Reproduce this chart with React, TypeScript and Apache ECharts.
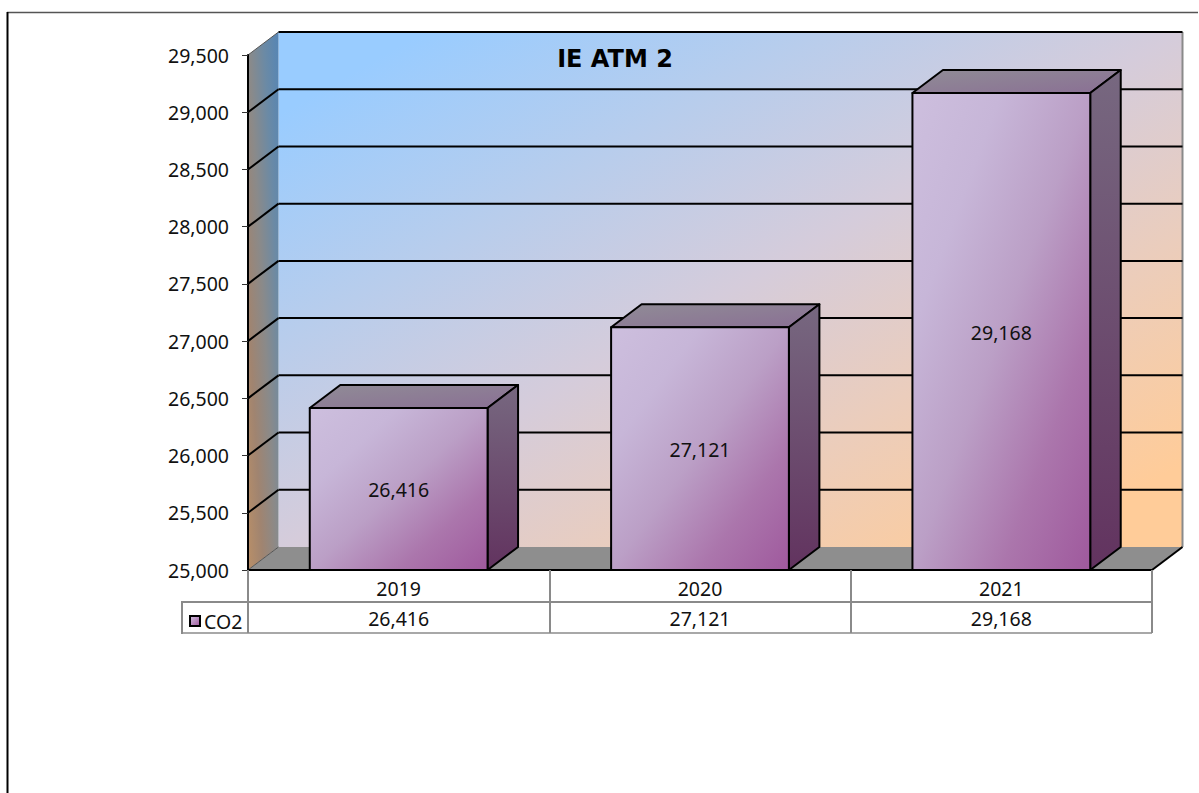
import React, { useEffect, useRef } from "react";
import * as echarts from "echarts";

const categories = ["2019", "2020", "2021"];
const seriesName = "CO2";
const co2Values = [26416, 27121, 29168];
const yTicks = [25000, 25500, 26000, 26500, 27000, 27500, 28000, 28500, 29000, 29500];
const chartTitle = "IE ATM 2";

const FONT = "'Noto Sans'";
const TITLE_FONT = "'DejaVu Sans'";
const TEXT_SIZE = 19.5;
const fmt = (v: number) => v.toLocaleString("en-US");
const DX = 30.5;
const DY = -23;
const BAR_RATIO = 0.59;

const grad = (x: number, y: number, x2: number, y2: number, stops: [number, string][]) =>
  new echarts.graphic.LinearGradient(x, y, x2, y2, stops.map(([offset, color]) => ({ offset, color })));

const wallItem = (params: any, api: any) => {
  const cs = params.coordSys;
  const x0 = cs.x;
  const x1 = cs.x + cs.width;
  const yB = api.coord([0, yTicks[0]])[1];
  const yT = api.coord([0, yTicks[yTicks.length - 1]])[1];
  const line = (a: number, b: number, c: number, d: number, stroke: string, lineWidth: number) => ({
    type: "line",
    shape: { x1: a, y1: b, x2: c, y2: d },
    style: { stroke, lineWidth },
  });
  const children: any[] = [
    {
      type: "rect",
      shape: { x: x0 + DX, y: yT + DY, width: cs.width, height: yB - yT },
      style: {
        fill: grad(0, 0, 1, 1, [
          [0, "#99ccff"],
          [0.08, "#99ccff"],
          [0.3, "#b8cdec"],
          [0.5, "#d5ccdb"],
          [0.7, "#ebcdbc"],
          [0.92, "#ffcc99"],
          [1, "#ffcc99"],
        ]),
      },
    },
    {
      type: "polygon",
      shape: { points: [[x0, yT], [x0 + DX, yT + DY], [x0 + DX, yB + DY], [x0, yB]] },
      style: {
        fill: grad(1, 0, 0, 1, [
          [0, "#5585b5"],
          [0.25, "#6b8aa5"],
          [0.5, "#8a8a8a"],
          [0.75, "#a08470"],
          [1, "#b98f68"],
        ]),
      },
    },
    {
      type: "polygon",
      shape: { points: [[x0, yB], [x0 + DX, yB + DY], [x1 + DX, yB + DY], [x1, yB]] },
      style: { fill: "#8e8e8e" },
    },
    line(x1 + DX, yT + DY, x1 + DX, yB + DY, "#8a8a8a", 2),
    line(x0, yT, x0 + DX, yT + DY, "#555555", 1),
    line(x0, yB, x0 + DX, yB + DY, "#555555", 1),
    line(x1, yB, x1 + DX, yB + DY, "#000000", 2),
  ];
  yTicks.slice(1).forEach((t) => {
    const y = api.coord([0, t])[1];
    if (t !== yTicks[yTicks.length - 1]) children.push(line(x0, y, x0 + DX, y + DY, "#000000", 2));
    children.push(line(x0 + DX, y + DY, x1 + DX, y + DY, "#000000", 2));
  });
  // data-table rules below the axis
  const row1 = yB + 32;
  const row2 = yB + 63;
  children.push(line(x0 - 66, row1, x1, row1, "#8a8a8a", 2));
  children.push(line(x0 - 66, row2, x1, row2, "#a8a8a8", 2));
  children.push(line(x0 - 66, row1 - 1, x0 - 66, row2 + 1, "#8a8a8a", 2));
  return { type: "group", children };
};

const barItem = (params: any, api: any) => {
  const i = api.value(0);
  const v = api.value(1);
  const [cx, yTop] = api.coord([i, v]);
  const yBase = api.coord([i, yTicks[0]])[1];
  const w = api.size([1, 0])[0] * BAR_RATIO;
  const l = cx - w / 2;
  const r = cx + w / 2;
  const border = { stroke: "#000000", lineWidth: 2, lineJoin: "round" };
  return {
    type: "group",
    children: [
      {
        type: "polygon",
        shape: { points: [[l, yTop], [l + DX, yTop + DY], [r + DX, yTop + DY], [r, yTop]] },
        style: { ...border, fill: grad(0, 0, 1, 1, [[0, "#908c96"], [1, "#8a6f94"]]) },
      },
      {
        type: "polygon",
        shape: { points: [[r, yTop], [r + DX, yTop + DY], [r + DX, yBase + DY], [r, yBase]] },
        style: { ...border, fill: grad(0, 0, 0, 1, [[0, "#776880"], [1, "#62335f"]]) },
      },
      {
        type: "rect",
        shape: { x: l, y: yTop, width: r - l, height: yBase - yTop },
        style: {
          ...border,
          fill: grad(0, 0, 1, 1, [
            [0, "#cdbfde"],
            [0.25, "#c7b6d8"],
            [0.5, "#bb9fc6"],
            [0.75, "#ab76ac"],
            [1, "#9f599d"],
          ]),
        },
      },
      {
        type: "text",
        style: {
          x: cx,
          y: (yTop + yBase) / 2 + 1,
          text: fmt(v),
          align: "center",
          verticalAlign: "middle",
          font: `${TEXT_SIZE}px ${FONT}`,
          fill: "#111111",
        },
      },
    ],
  };
};

export default function App() {
  const ref = useRef<HTMLDivElement>(null);
  useEffect(() => {
    const chart = echarts.init(ref.current!, undefined, { renderer: "svg" });
    chart.setOption({
      animation: false,
      backgroundColor: "#ffffff",
      title: {
        text: chartTitle,
        left: 610,
        top: 42,
        textAlign: "center",
        textStyle: { fontFamily: TITLE_FONT, fontSize: 24, fontWeight: "bold", color: "#000000" },
      },
      legend: {
        left: 189,
        top: 611,
        padding: 0,
        itemWidth: 10,
        itemHeight: 10,
        itemGap: 0,
        textStyle: { fontFamily: FONT, fontSize: TEXT_SIZE, color: "#111111", padding: [0, 0, 0, -1] },
        data: [
          {
            name: seriesName,
            icon: "rect",
            itemStyle: {
              color: grad(0, 0, 1, 1, [[0, "#d2c4e2"], [1, "#a0559b"]]),
              borderColor: "#000000",
              borderWidth: 2,
            },
          },
        ],
      },
      graphic: [
        {
          type: "line",
          shape: { x1: 7, y1: 12.5, x2: 1198, y2: 12.5 },
          style: { stroke: "#555555", lineWidth: 1.5 },
        },
        {
          type: "line",
          shape: { x1: 7.5, y1: 12, x2: 7.5, y2: 793 },
          style: { stroke: "#000000", lineWidth: 2 },
        },
      ],
      grid: { left: 248, right: 47, top: 55, bottom: 223, containLabel: false },
      xAxis: {
        type: "category",
        data: categories,
        boundaryGap: true,
        axisLine: { show: true, lineStyle: { color: "#000000", width: 2 } },
        axisTick: { show: true, length: 63, inside: false, lineStyle: { color: "#8a8a8a", width: 2 } },
        axisLabel: {
          interval: 0,
          margin: 3,
          fontFamily: FONT,
          fontSize: TEXT_SIZE,
          color: "#111111",
          lineHeight: 30,
          formatter: (value: string, idx: number) => `${value}\n${fmt(co2Values[idx])}`,
        },
        splitLine: { show: false },
      },
      yAxis: {
        type: "value",
        min: 25000,
        max: 29500,
        interval: 500,
        axisLine: { show: true, lineStyle: { color: "#000000", width: 2 } },
        axisTick: { show: true, length: 6, lineStyle: { color: "#333333", width: 1 } },
        axisLabel: {
          margin: 19,
          fontFamily: FONT,
          fontSize: TEXT_SIZE,
          color: "#111111",
          formatter: (v: number) => fmt(v),
        },
        splitLine: { show: false },
      },
      series: [
        {
          type: "custom",
          name: "walls",
          z: -1,
          silent: true,
          clip: false,
          encode: { x: 0, y: 1 },
          data: [[0, yTicks[0]]],
          renderItem: wallItem,
        },
        {
          type: "custom",
          name: seriesName,
          z: 3,
          clip: false,
          encode: { x: 0, y: 1 },
          data: co2Values.map((v, i) => [i, v]),
          renderItem: barItem,
        },
      ],
    });
    return () => chart.dispose();
  }, []);
  return (
    <div
      ref={ref}
      style={{ position: "fixed", left: 0, top: 0, width: 1199, height: 793 }}
    />
  );
}
